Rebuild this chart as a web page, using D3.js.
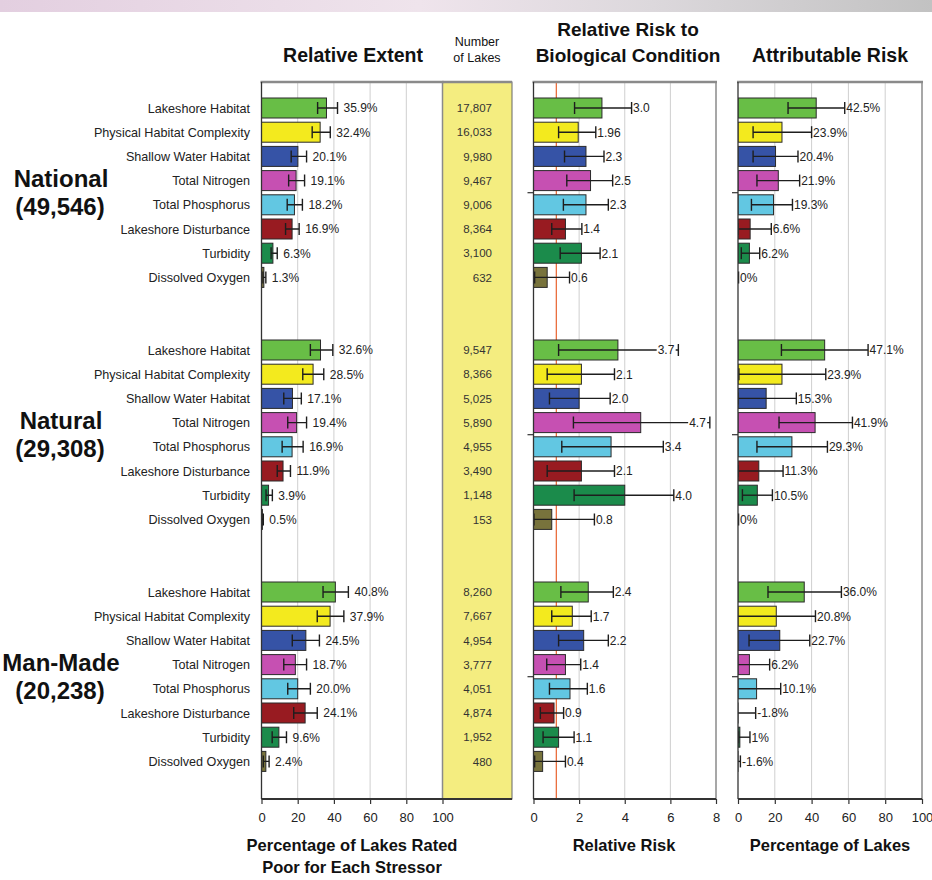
<!DOCTYPE html>
<html><head><meta charset="utf-8">
<script src="https://cdn.jsdelivr.net/npm/d3@7"></script>
<style>
html,body{margin:0;padding:0;background:#fff;}
svg{display:block;font-family:"Liberation Sans",Arial,Helvetica,sans-serif;}
</style></head>
<body><svg id="c" width="932" height="880"></svg>
<script>
// ---------- DATA ----------
const categories = ["Lakeshore Habitat","Physical Habitat Complexity","Shallow Water Habitat","Total Nitrogen","Total Phosphorus","Lakeshore Disturbance","Turbidity","Dissolved Oxygen"];
const groups = ["National","Natural","Man-Made"];
const groupTotals = ["(49,546)","(29,308)","(20,238)"];
const colors = ["#68be46","#f3ea1e","#3653a6","#c650b2","#62c7e2","#981b21","#1b8b4b","#78733c"];

const extentNational = [35.9,32.4,20.1,19.1,18.2,16.9,6.3,1.3];
const extentLowNational = [31,28,16.4,15,14.2,13.3,5.3,0.8];
const extentHighNational = [42,38,24.9,23.8,22.6,20.8,8.7,2.4];
const extentNatural = [32.6,28.5,17.1,19.4,16.9,11.9,3.9,0.5];
const extentLowNatural = [27,22.8,12.3,14.5,11.4,8.7,2.5,0.1];
const extentHighNatural = [39.4,34.4,22,24.9,23,16,6,1];
const extentManMade = [40.8,37.9,24.5,18.7,20.0,24.1,9.6,2.4];
const extentLowManMade = [34,30.8,17,12.3,14.5,17.8,5.9,1];
const extentHighManMade = [48,45.5,32,24.9,27,30.8,13.8,4.2];

const lakesNational = ["17,807","16,033","9,980","9,467","9,006","8,364","3,100","632"];
const lakesNatural = ["9,547","8,366","5,025","5,890","4,955","3,490","1,148","153"];
const lakesManMade = ["8,260","7,667","4,954","3,777","4,051","4,874","1,952","480"];

const riskNational = [3.0,1.96,2.3,2.5,2.3,1.4,2.1,0.6];
const riskLowNational = [1.8,1.1,1.36,1.46,1.31,0.8,1.17,0.05];
const riskHighNational = [4.3,2.73,3.09,3.47,3.28,2.12,2.92,1.58];
const riskNatural = [3.7,2.1,2.0,4.7,3.4,2.1,4.0,0.8];
const riskLowNatural = [1.1,0.6,0.7,1.75,1.24,0.6,1.78,0.02];
const riskHighNatural = [6.35,3.55,3.36,7.73,5.69,3.55,6.15,2.67];
const riskManMade = [2.4,1.7,2.2,1.4,1.6,0.9,1.1,0.4];
const riskLowManMade = [1.2,0.8,1.1,0.58,0.7,0.3,0.42,0.05];
const riskHighManMade = [3.5,2.53,3.28,2.07,2.36,1.32,1.78,1.4];

const attrNational = [42.5,23.9,20.4,21.9,19.3,6.6,6.2,0];
const attrLowNational = [27.2,8.2,8.2,10.3,7.3,0,1.8,-0.3];
const attrHighNational = [58,40,32.6,33.5,29.6,18.1,11.8,0.3];
const attrNatural = [47.1,23.9,15.3,41.9,29.3,11.3,10.5,0];
const attrLowNatural = [23.6,0.5,0,22.3,10.3,0,2.4,-0.3];
const attrHighNatural = [70.7,47.7,31.7,62.2,48.6,24.5,18.7,0.3];
const attrManMade = [36.0,20.8,22.7,6.2,10.1,-1.8,1,-1.6];
const attrLowManMade = [16.3,-1,6,-2,-2,-12,0.3,-4];
const attrHighManMade = [56.2,42.1,39,17.2,23.2,9.6,6.5,1.3];

const extentTicks = [0,20,40,60,80,100];
const riskTicks = [0,2,4,6,8];
const attrTicks = [0,20,40,60,80,100];

// ---------- BUILD ROWS ----------
const ext = [extentNational,extentNatural,extentManMade];
const extLo = [extentLowNational,extentLowNatural,extentLowManMade];
const extHi = [extentHighNational,extentHighNatural,extentHighManMade];
const lakes = [lakesNational,lakesNatural,lakesManMade];
const rr = [riskNational,riskNatural,riskManMade];
const rrLo = [riskLowNational,riskLowNatural,riskLowManMade];
const rrHi = [riskHighNational,riskHighNatural,riskHighManMade];
const ar = [attrNational,attrNatural,attrManMade];
const arLo = [attrLowNational,attrLowNatural,attrLowManMade];
const arHi = [attrHighNational,attrHighNatural,attrHighManMade];

const rows = [];
groups.forEach((g,gi)=>categories.forEach((c,ci)=>{
  rows.push({g:gi,c:ci,slot:gi*10+ci,name:c,color:colors[ci],
    ext:ext[gi][ci],extLo:extLo[gi][ci],extHi:extHi[gi][ci],lakes:lakes[gi][ci],
    rr:rr[gi][ci],rrLo:rrLo[gi][ci],rrHi:rrHi[gi][ci],
    ar:ar[gi][ci],arLo:arLo[gi][ci],arHi:arHi[gi][ci]});
}));

// ---------- SCALES ----------
const panelTop = 82, axisY = 799;
const y = d3.scaleLinear().domain([0,27]).range([108,761.4]);
const x1 = d3.scaleLinear().domain([0,100]).range([261.5,442.5]);
const x2 = d3.scaleLinear().domain([0,8]).range([533.5,716]);
const x3 = d3.scaleLinear().domain([0,100]).range([738,922]);
const colRight = 512;
const barH = 20, capH = 12;

const svg = d3.select("#c");
const defs = svg.append("defs");
const grad = defs.append("linearGradient").attr("id","topband");
[["0%","#e3cfe0"],["45%","#efe4ec"],["70%","#dcd8dc"],["100%","#c2c2c2"]].forEach(s=>grad.append("stop").attr("offset",s[0]).attr("stop-color",s[1]));
svg.append("rect").attr("x",0).attr("y",0).attr("width",932).attr("height",12).attr("fill","url(#topband)");

// ---------- TITLES ----------
const T = (txt,x,yy,size,weight,anchor)=>svg.append("text").attr("x",x).attr("y",yy).attr("font-size",size).attr("font-weight",weight||"normal").attr("text-anchor",anchor||"middle").attr("fill","#111").text(txt);
T("Relative Extent",353,62,19.5,"bold");
T("Number",477,46,12.5);
T("of Lakes",477,62,12.5);
T("Relative Risk to",628,36,19,"bold");
T("Biological Condition",628,62,19,"bold");
T("Attributable Risk",830,62,19.5,"bold");

// ---------- PANEL FRAMES / GRID ----------
function panel(x, ticks, clipId){
  const x0 = x.range()[0], xr = x.range()[1];
  const g = svg.append("g");
  g.append("rect").attr("x",x0).attr("y",panelTop).attr("width",xr-x0).attr("height",axisY-panelTop).attr("fill","#fff");
  g.selectAll("line.grid").data(ticks.slice(1,-1)).join("line").attr("class","grid")
    .attr("x1",d=>x(d)).attr("x2",d=>x(d)).attr("y1",panelTop).attr("y2",axisY).attr("stroke","#cfcfcf").attr("stroke-width",1);
  defs.append("clipPath").attr("id",clipId).append("rect").attr("x",x0).attr("y",panelTop).attr("width",xr-x0+60).attr("height",axisY-panelTop);
  return g;
}
panel(x1,extentTicks,"clip1");
// Number of lakes column
svg.append("rect").attr("x",x1(100)).attr("y",panelTop).attr("width",colRight-x1(100)).attr("height",axisY-panelTop).attr("fill","#f4ed80").attr("stroke","#666").attr("stroke-width",1);
panel(x2,riskTicks,"clip2");
panel(x3,attrTicks,"clip3");

// red reference line at RR=1
svg.append("line").attr("x1",x2(1)).attr("x2",x2(1)).attr("y1",panelTop).attr("y2",axisY).attr("stroke","#e8622e").attr("stroke-width",1.2);

// ---------- ROW LABELS & GROUP LABELS ----------
svg.append("g").selectAll("text").data(rows).join("text")
  .attr("x",250).attr("y",d=>y(d.slot)).attr("dy","0.36em").attr("text-anchor","end")
  .attr("font-size",12.6).attr("fill","#222").text(d=>d.name);
groups.forEach((g,gi)=>{
  const cy = y(gi*10+3.5);
  T(g,61,cy-6,24,"bold");
  T(groupTotals[gi],60,cy+22,24,"bold");
});

// ---------- BARS + ERRORS ----------
function bars(x, key, lo, hi, clipId, labelFn, gap, insideRule){
  const g = svg.append("g").attr("clip-path",`url(#${clipId})`);
  g.selectAll("rect").data(rows).join("rect")
    .attr("x",d=>x(Math.min(0,d[key]))).attr("y",d=>y(d.slot)-barH/2)
    .attr("width",d=>Math.abs(x(d[key])-x(0))).attr("height",barH)
    .attr("fill",d=>d.color).attr("stroke","#2a2a2a").attr("stroke-width",1);
  const e = g.append("g").attr("stroke","#1e1e1e").attr("stroke-width",1.4);
  e.selectAll("line.h").data(rows).join("line").attr("class","h")
    .attr("x1",d=>x(d[lo])).attr("x2",d=>x(d[hi])).attr("y1",d=>y(d.slot)).attr("y2",d=>y(d.slot));
  e.selectAll("line.l").data(rows).join("line").attr("class","l")
    .attr("x1",d=>x(d[lo])).attr("x2",d=>x(d[lo])).attr("y1",d=>y(d.slot)-capH/2).attr("y2",d=>y(d.slot)+capH/2);
  e.selectAll("line.u").data(rows).join("line").attr("class","u")
    .attr("x1",d=>x(d[hi])).attr("x2",d=>x(d[hi])).attr("y1",d=>y(d.slot)-capH/2).attr("y2",d=>y(d.slot)+capH/2);
  const lg = svg.append("g");
  rows.forEach(d=>{
    const inside = insideRule && insideRule(d);
    const t = lg.append("text").attr("y",y(d.slot)).attr("dy","0.36em").attr("font-size",12).attr("fill","#222").text(labelFn(d));
    if(inside){
      t.attr("x",x(d[hi])-4).attr("text-anchor","end");
      const bb = t.node().getBBox();
      lg.insert("rect",()=>t.node()).attr("x",bb.x-1).attr("y",y(d.slot)-3).attr("width",bb.width+2).attr("height",6).attr("fill","#fff");
    } else {
      t.attr("x",x(d[hi])+gap);
    }
  });
}
bars(x1,"ext","extLo","extHi","clip1",d=>d.ext.toFixed(1)+"%",6);
bars(x2,"rr","rrLo","rrHi","clip2",d=>(Math.round(d.rr*10)/10===d.rr? d.rr.toFixed(1): String(d.rr)),1.5,d=>d.rrHi>6.25);
bars(x3,"ar","arLo","arHi","clip3",d=>((d.ar===0||d.ar===1)? d.ar+"%": d.ar.toFixed(1)+"%"),1.5);

// number of lakes
svg.append("g").selectAll("text").data(rows).join("text")
  .attr("x",492).attr("y",d=>y(d.slot)).attr("dy","0.36em").attr("text-anchor","end")
  .attr("font-size",11.5).attr("fill","#333").text(d=>d.lakes);

// panel borders on top
[[x1,0],[x2,1],[x3,1]].forEach(([x,stub])=>{
  const x0=x.range()[0], xr=x.range()[1];
  svg.append("line").attr("x1",x0-1).attr("x2",xr+1).attr("y1",panelTop).attr("y2",panelTop).attr("stroke","#8a8a8a").attr("stroke-width",2.5);
  svg.append("line").attr("x1",xr).attr("x2",xr).attr("y1",panelTop).attr("y2",axisY).attr("stroke","#8a8a8a").attr("stroke-width",1.5);
  svg.append("line").attr("x1",x0).attr("x2",x0).attr("y1",panelTop).attr("y2",axisY).attr("stroke","#333").attr("stroke-width",1.3);
  if(stub){
    groups.forEach((g,gi)=>svg.append("line").attr("x1",x0-6).attr("x2",x0).attr("y1",y(gi*10+3.5)).attr("y2",y(gi*10+3.5)).attr("stroke","#333").attr("stroke-width",1.2));
  }
});
svg.append("line").attr("x1",x1(100)).attr("x2",colRight).attr("y1",panelTop).attr("y2",panelTop).attr("stroke","#8a8a8a").attr("stroke-width",2.5);

// ---------- AXES ----------
function axis(x, ticks, extra){
  const g = svg.append("g").attr("transform",`translate(0,${axisY})`)
    .call(d3.axisBottom(x).tickValues(ticks).tickSize(5).tickPadding(9).tickFormat(d3.format("d")));
  g.select(".domain").remove();
  g.append("line").attr("x1",x.range()[0]).attr("x2",extra||x.range()[1]).attr("stroke","#333").attr("stroke-width",2);
  g.selectAll(".tick line").attr("stroke","#333").attr("stroke-width",1.2);
  g.selectAll(".tick text").attr("font-size",13).attr("fill","#222").attr("font-family","Liberation Sans, Arial, sans-serif");
}
axis(x1,extentTicks,colRight);
axis(x2,riskTicks);
axis(x3,attrTicks);

T("Percentage of Lakes Rated",352,851,16.5,"bold");
T("Poor for Each Stressor",352,873,16.5,"bold");
T("Relative Risk",624,851,16.5,"bold");
T("Percentage of Lakes",830,851,16.5,"bold");
</script></body></html>
